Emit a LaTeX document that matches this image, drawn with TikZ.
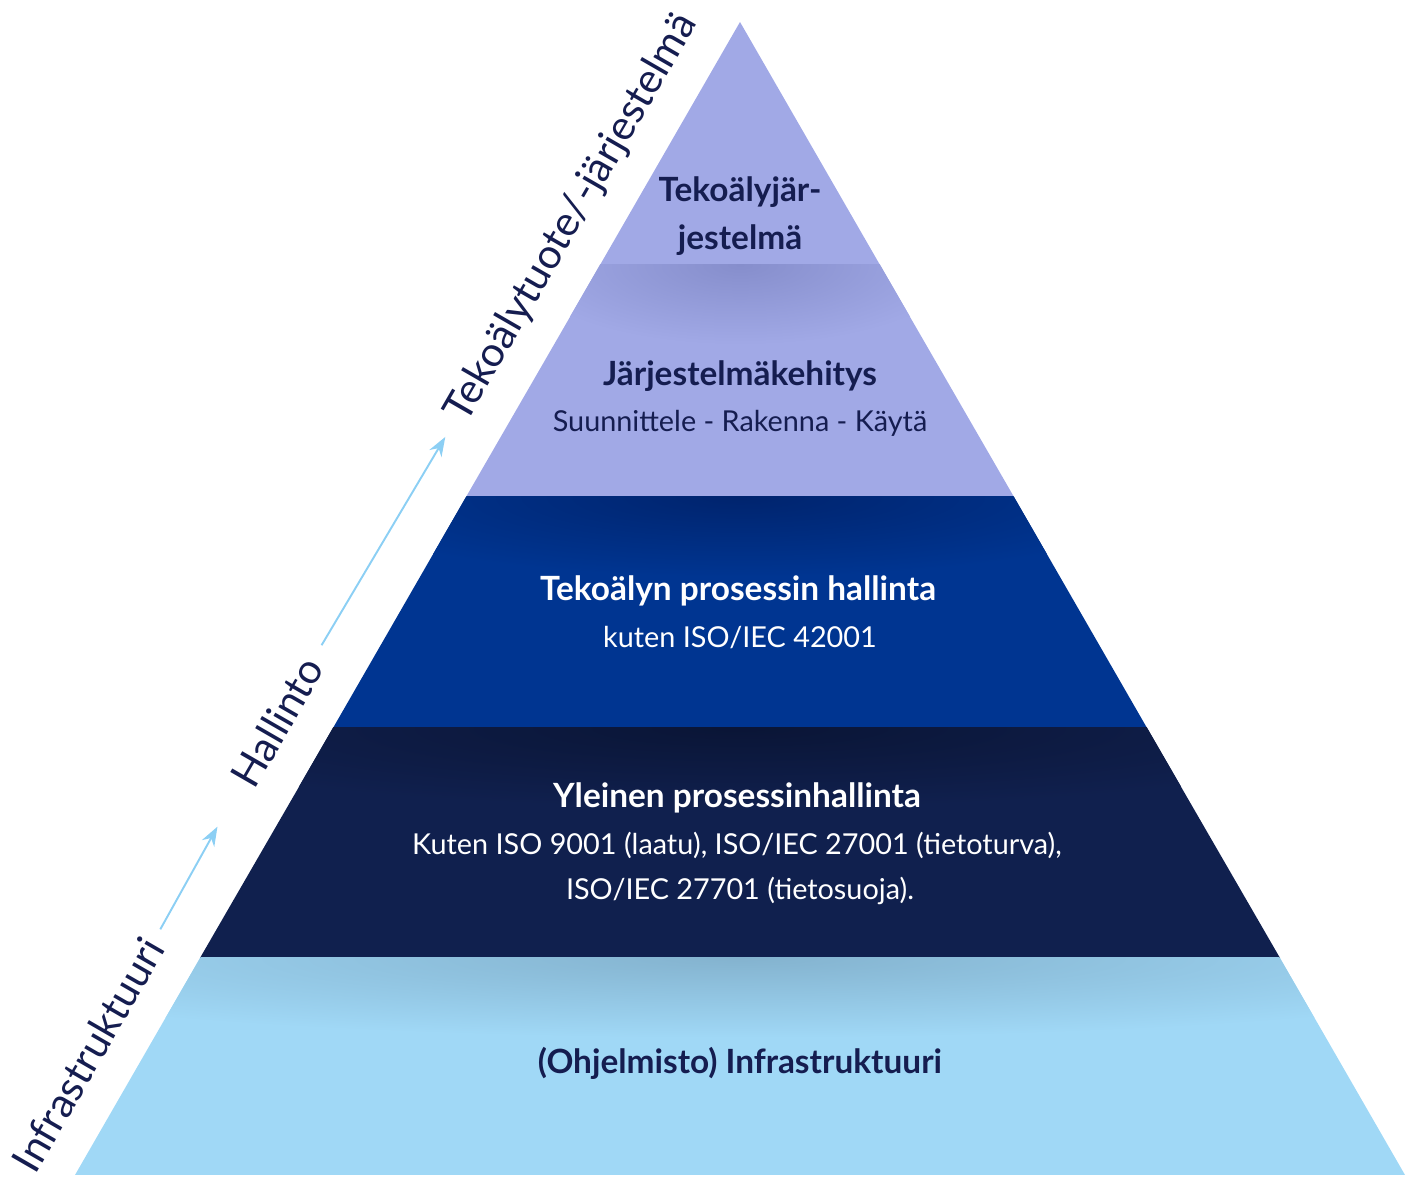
\documentclass[tikz,border=0pt]{standalone}
\usepackage{fontspec}
\setmainfont{Lato}
\usetikzlibrary{arrows.meta}
\definecolor{lilac}{HTML}{A1A9E6}
\definecolor{lilacdark}{HTML}{868ECC}
\definecolor{royal}{HTML}{003591}
\definecolor{royaldark}{HTML}{00246E}
\definecolor{navy}{HTML}{10204E}
\definecolor{navydark}{HTML}{0A1536}
\definecolor{sky}{HTML}{A0D8F6}
\definecolor{skydark}{HTML}{84B3CF}
\definecolor{ink}{HTML}{151D50}
\definecolor{arrowblue}{HTML}{8CCFF4}
\tikzset{
  head/.style={font=\bfseries\fontsize{19}{22}\selectfont},
  sub/.style={font=\fontsize{16.4}{19}\selectfont},
  side/.style={font=\fontsize{23.5}{27}\selectfont, text=ink, rotate=60, inner sep=0pt},
  flow/.style={->, arrowblue, line width=1.1pt}
}
\begin{document}
\begin{tikzpicture}[x=0.02cm, y=0.02cm, >={Stealth[length=11pt, width=8pt]}]
	\useasboundingbox (0,0) rectangle (1406,1186);
	% layers of the pyramid
	\fill[sky] (75,11) -- (1405,11) -- (1280,228) -- (200,228) -- cycle;
	\fill[navy] (200,228) -- (1280,228) -- (1147,458) -- (333,458) -- cycle;
	\fill[royal] (333,458) -- (1147,458) -- (1014,689) -- (466,689) -- cycle;
	\fill[lilac] (466,689) -- (1014,689) -- (880,921) -- (600,921) -- cycle;
	\fill[lilac] (600,921) -- (880,921) -- (740,1164) -- cycle;
	% soft shadows under each step
	\foreach \yb/\hw/\lay/\dark in {228/540/sky/skydark, 458/407/navy/navydark, 689/274/royal/royaldark, 921/140/lilac/lilacdark}
	{
		\begin{scope}
			\clip (75,11) -- (1405,11) -- (740,1164) -- cycle;
			\clip (0,\yb) rectangle (1406,\yb-150);
			\shade[inner color=\dark, outer color=\lay] (740,\yb) ellipse ({1.6*\hw} and 80);
		\end{scope}
	}
	% texts
	\node[head, text=ink] (ai1) at (740,994) {Tekoälyjär-};
	\node[head, text=ink] (ai2) at (740,946) {jestelmä};
	\node[head, text=ink] (dev) at (740,810) {Järjestelmäkehitys};
	\node[sub, text=ink] (devsub) at (740,763) {Suunnittele - Rakenna - Käytä};
	\node[head, text=white] (aiproc) at (738,595) {Tekoälyn prosessin hallinta};
	\node[sub, text=white] (aiprocsub) at (740,548) {kuten ISO/IEC 42001};
	\node[head, text=white] (gen) at (737,388) {Yleinen prosessinhallinta};
	\node[sub, text=white] (gensub1) at (737,341) {Kuten ISO 9001 (laatu), ISO/IEC 27001 (tietoturva),};
	\node[sub, text=white] (gensub2) at (740,295) {ISO/IEC 27701 (tietosuoja).};
	\node[head, text=ink] (infra) at (740,123) {(Ohjelmisto) Infrastruktuuri};
	% labels along the side
	\node[side] (sinfra) at (88,131) {Infrastruktuuri};
	\node[side] (shall) at (277,464) {Hallinto};
	\node[side] (sprod) at (572,968) {Tekoälytuote/-järjestelmä};
	\draw[flow, shorten <=8pt, shorten >=28pt] (sinfra.east) -- (shall.west);
	\draw[flow, shorten <=10pt, shorten >=12pt] (shall.east) -- (sprod.west);
\end{tikzpicture}
\end{document}
